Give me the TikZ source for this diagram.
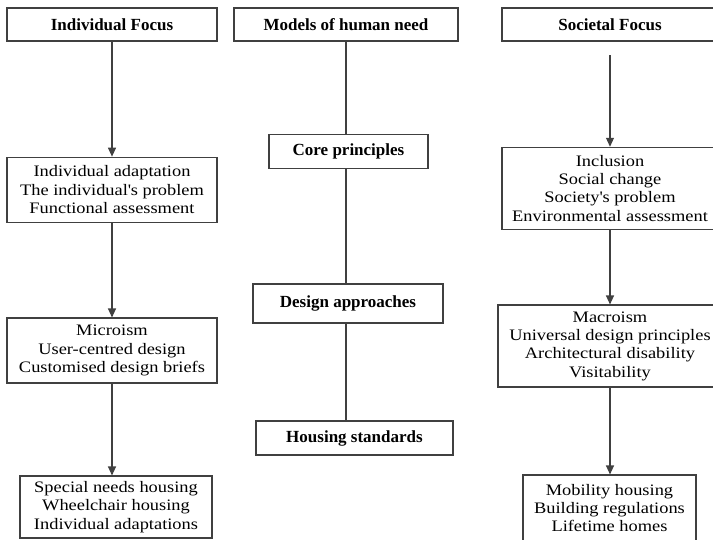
\documentclass[tikz,border=0pt]{standalone}
\usepackage{fontspec}
\setmainfont{Liberation Serif}
\newfontfamily\bodyfont[FakeStretch=1.15]{Liberation Serif}
\usetikzlibrary{arrows.meta}
\begin{document}
\begin{tikzpicture}[x=1pt,y=-1pt,
 box/.style={draw=black!75, line width=1.1pt, align=center, inner sep=0pt, font=\bodyfont\fontsize{16}{18.3}\selectfont},
 head/.style={box, font=\bfseries\fontsize{17}{18}\selectfont},
 arr/.style={draw=black!75, line width=1.1pt, -{Triangle[width=8pt,length=9pt]}},
 ln/.style={draw=black!75, line width=1.1pt}]
\useasboundingbox (0,0) rectangle (713,539);
\clip (0,0) rectangle (713,539);
% left column
\node[head, minimum width=210pt, minimum height=33pt] (L0) at (112,24.5) {Individual Focus};
\node[box, minimum width=210pt, minimum height=65pt] (L1) at (112,189.7) {Individual adaptation\\The individual\textquotesingle s problem\\Functional assessment};
\node[box, minimum width=210pt, minimum height=65pt] (L2) at (112,350.5) {Microism\\User-centred design\\Customised design briefs};
\node[box, minimum width=192pt, minimum height=62pt] (L3) at (116,507) {Special needs housing\\Wheelchair housing\\Individual adaptations};
% middle column
\node[head, minimum width=224pt, minimum height=33pt] (M0) at (346,24.5) {Models of human need};
\node[head, minimum width=159pt, minimum height=34pt] (M1) at (348.5,151.3) {Core principles};
\node[head, minimum width=190pt, minimum height=39pt] (M2) at (348,303.5) {Design approaches};
\node[head, minimum width=197pt, minimum height=34pt] (M3) at (354.5,438) {Housing standards};
% right column
\node[head, minimum width=216pt, minimum height=33pt] (R0) at (610,24.5) {Societal Focus};
\node[box, minimum width=216pt, minimum height=82pt] (R1) at (610,188.3) {Inclusion\\Social change\\Society\textquotesingle s problem\\Environmental assessment};
\node[box, minimum width=224pt, minimum height=82pt] (R2) at (610,346) {Macroism\\Universal design principles\\Architectural disability\\Visitability};
\node[box, minimum width=173pt, minimum height=66pt] (R3) at (609.5,508) {Mobility housing\\Building regulations\\Lifetime homes};
% connectors
\draw[arr] (L0.south) -- (L1.north);
\draw[arr] (L1.south) -- (L2.north);
\draw[arr] (L2.south) -- (L2.south |- L3.north);
\draw[ln] (M0.south) -- (M0.south |- M1.north);
\draw[ln] (M0.south |- M1.south) -- (M0.south |- M2.north);
\draw[ln] (M0.south |- M2.south) -- (M0.south |- M3.north);
\coordinate (r0) at (610,55);
\draw[arr] (r0) -- (R1.north);
\draw[arr] (R1.south) -- (R2.north);
\draw[arr] (R2.south) -- (R2.south |- R3.north);
\end{tikzpicture}
\end{document}
